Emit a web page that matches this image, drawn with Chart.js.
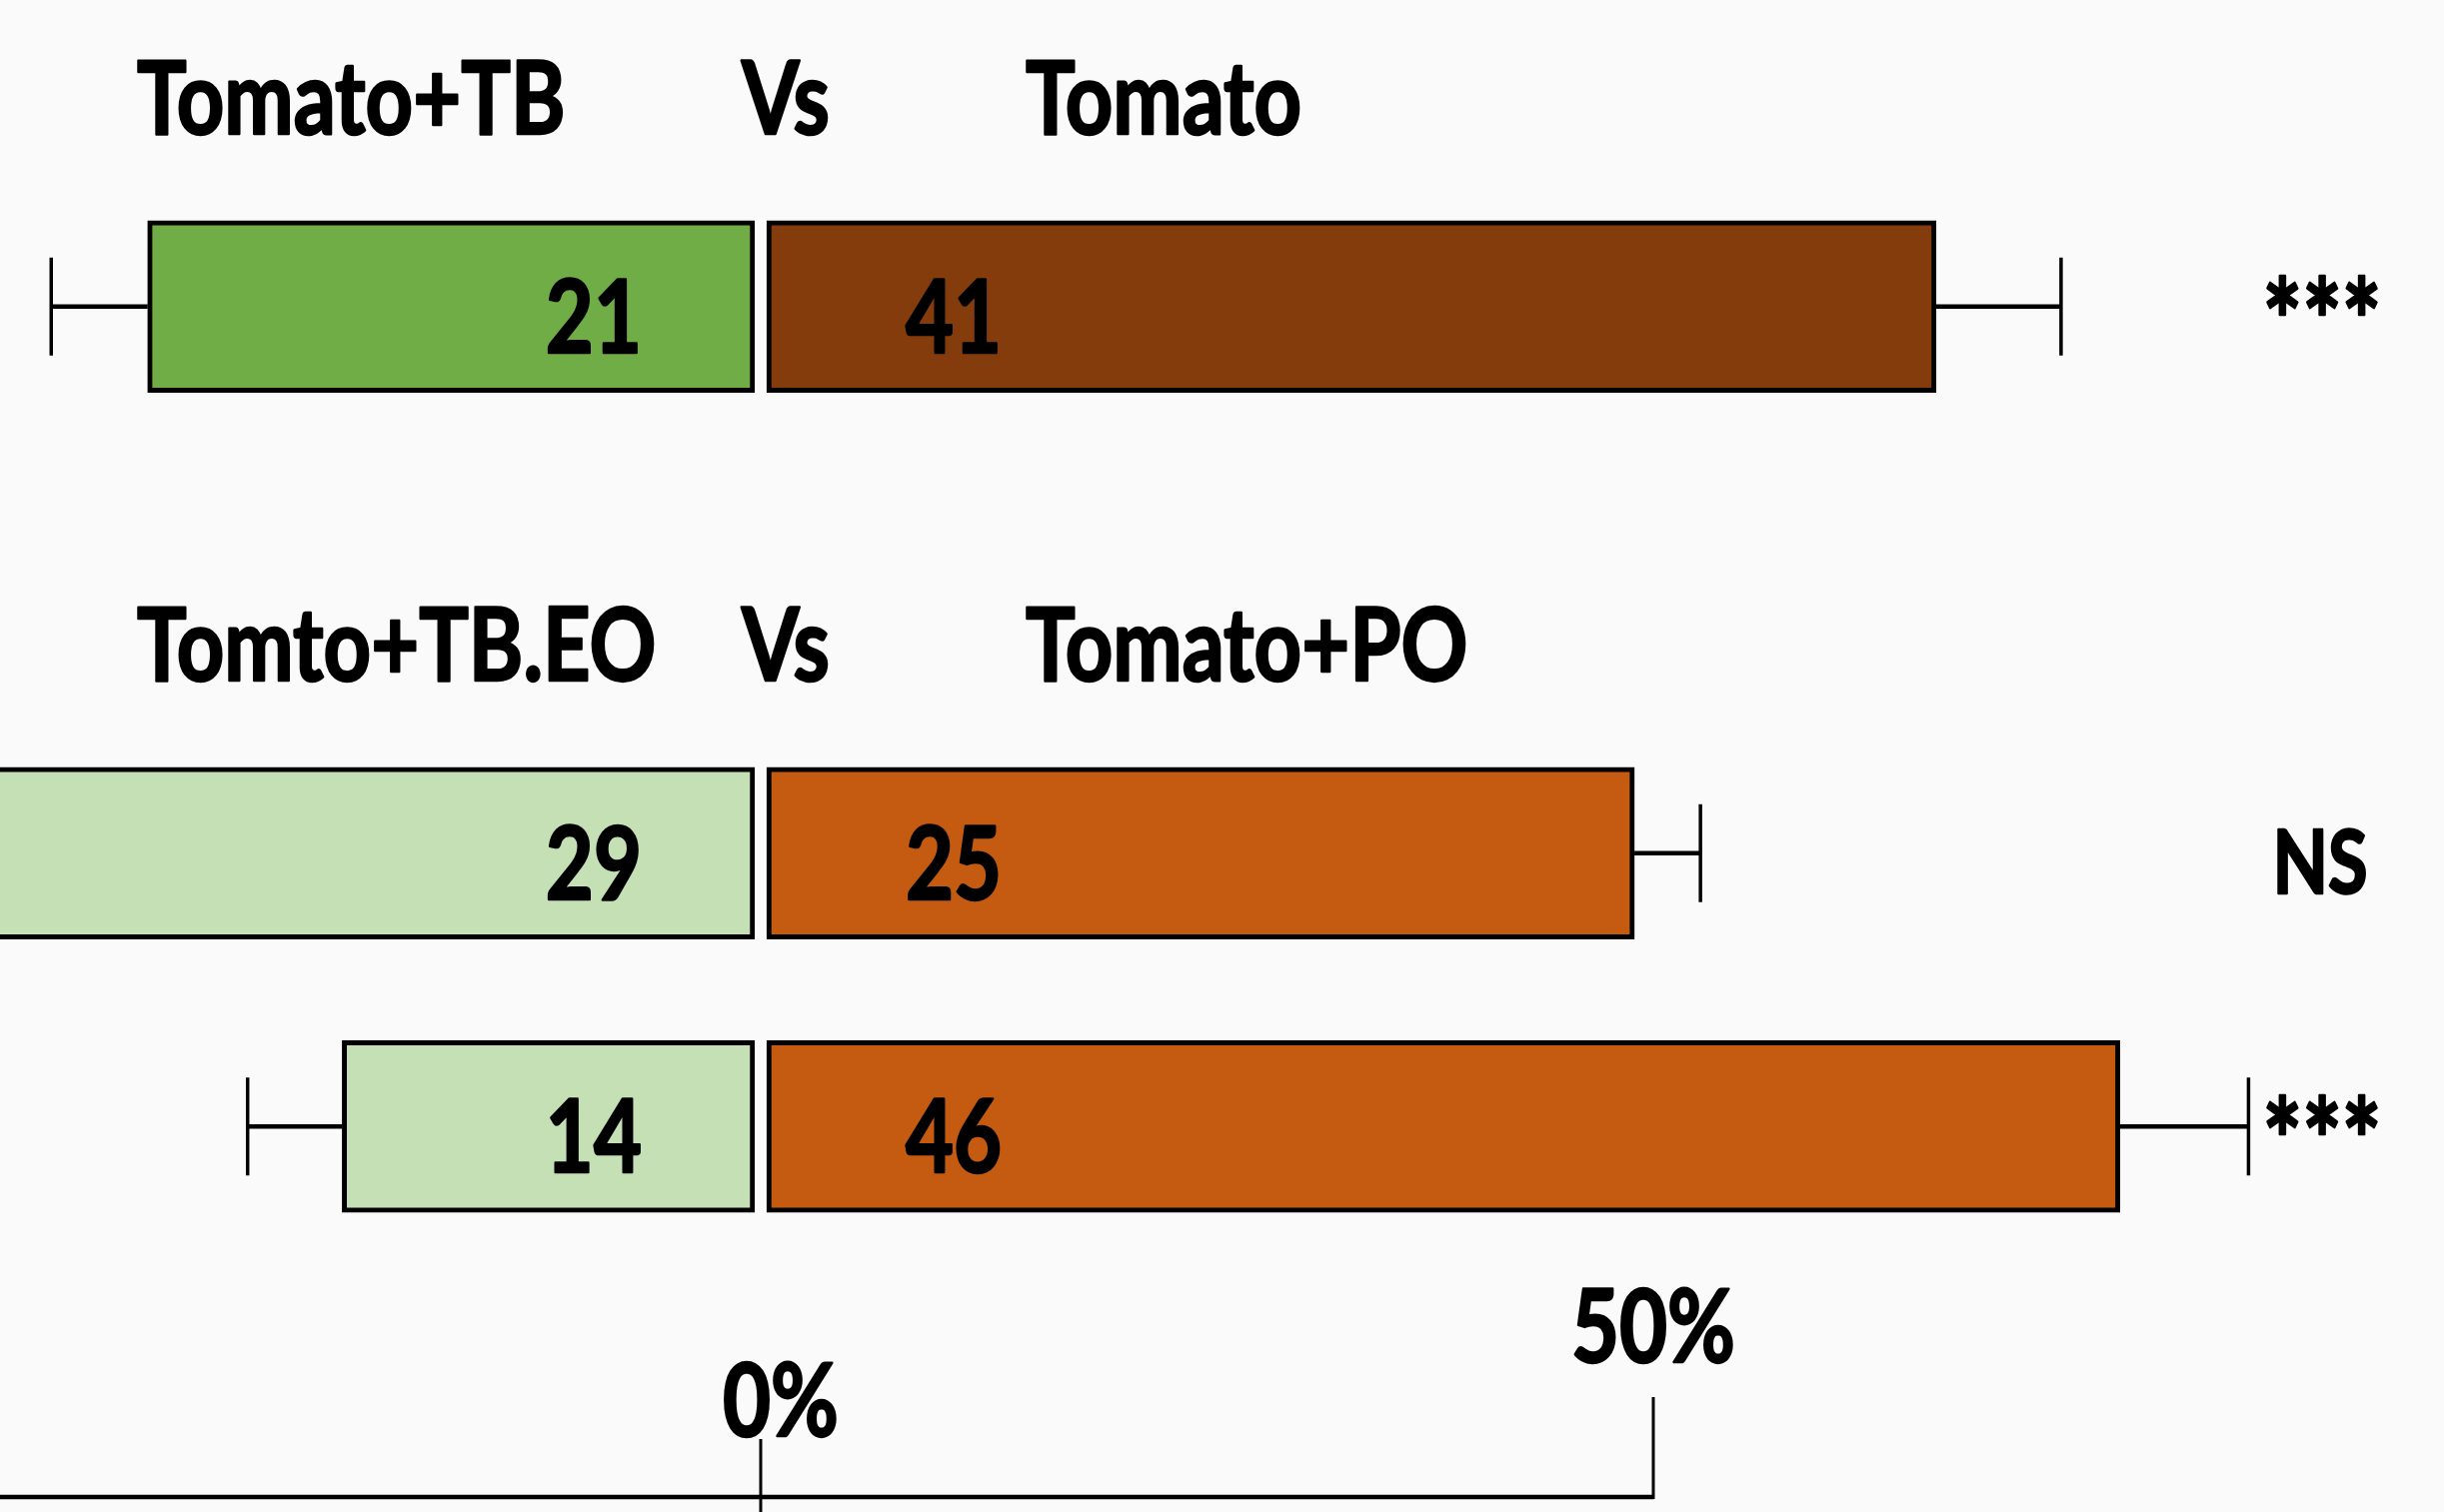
<!DOCTYPE html>
<html>
<head>
<meta charset="utf-8">
<title>Choice test</title>
<script src="https://cdn.jsdelivr.net/npm/chart.js@4.4.1/dist/chart.umd.min.js"></script>
<style>
  html, body { margin: 0; padding: 0; background: #fafafa; }
  #wrap { width: 2445px; height: 1513px; }
</style>
</head>
<body>
<div id="wrap"><canvas id="choiceChart" width="2445" height="1513"></canvas></div>
<script>
// rows of the chart; slot 1 stays empty, it holds the title of the 2nd pair
const rows = ['Tomato+TB / Tomato', '', 'Tomto+TB.EO / Tomato+PO (a)', 'Tomto+TB.EO / Tomato+PO (b)'];
const headers = [['Tomato+TB', 'Vs', 'Tomato'], null, ['Tomto+TB.EO', 'Vs', 'Tomato+PO'], null];

// % of insects choosing each side (bar length)
const leftPct = [34.0, null, 51.4, 23.1];
const rightPct = [65.5, null, 48.6, 75.8];
// numbers printed in the bars
const leftCounts = [21, null, 29, 14];
const rightCounts = [41, null, 25, 46];
// error bars (in % units)
const leftErr = [5.4, null, null, 5.3];
const rightErr = [7.0, null, 3.7, 7.2];
const signif = ['***', null, 'NS', '***'];

const leftColors = ['#70AD47', '#70AD47', '#C5E0B4', '#C5E0B4'];
const rightColors = ['#843C0C', '#843C0C', '#C55A11', '#C55A11'];

const tickValues = [0, 50];
const tickLabels = ['0%', '50%'];

const GAP = 0.34;        // small white gap each side of 0%
const FONT = '"Lato", "Liberation Sans", sans-serif';
const FONT_SIZE = 101;
const SQUEEZE = 0.82;    // text in the original is horizontally squeezed

function squeezedText(ctx, text, x, y, align, size) {
  ctx.save();
  ctx.font = 'bold ' + (size || FONT_SIZE) + 'px ' + FONT;
  ctx.textBaseline = 'alphabetic';
  ctx.textAlign = 'left';
  const w = ctx.measureText(text).width * SQUEEZE;
  let x0 = x;
  if (align === 'right') x0 = x - w;
  if (align === 'center') x0 = x - w / 2;
  ctx.translate(x0, y);
  ctx.scale(SQUEEZE, 1);
  ctx.fillStyle = '#000';
  ctx.strokeStyle = '#000';
  ctx.lineWidth = 2.5;
  ctx.lineJoin = 'round';
  ctx.fillText(text, 0, 0);
  ctx.strokeText(text, 0, 0);
  ctx.restore();
}

function line(ctx, x1, y1, x2, y2, w) {
  ctx.beginPath();
  ctx.lineWidth = w;
  ctx.strokeStyle = '#000';
  ctx.moveTo(x1, y1);
  ctx.lineTo(x2, y2);
  ctx.stroke();
}

const decorations = {
  id: 'decorations',
  afterDatasetsDraw(chart) {
    const ctx = chart.ctx;
    const xs = chart.scales.x, ys = chart.scales.y;
    const zero = xs.getPixelForValue(0);

    // error bars
    [[0, leftErr, -1], [1, rightErr, 1]].forEach(([di, errs, dir]) => {
      chart.getDatasetMeta(di).data.forEach((bar, i) => {
        if (errs[i] == null) return;
        const raw = chart.data.datasets[di].data[i];
        const capX = xs.getPixelForValue(raw[1] + dir * errs[i]);
        line(ctx, bar.x, bar.y, capX, bar.y, 4.5);
        line(ctx, capX, bar.y - 49, capX, bar.y + 49, 3.5);
      });
    });

    // counts inside the bars
    chart.getDatasetMeta(0).data.forEach((bar, i) => {
      if (leftCounts[i] == null) return;
      squeezedText(ctx, String(leftCounts[i]), bar.base - 113, bar.y + 46, 'right');
    });
    chart.getDatasetMeta(1).data.forEach((bar, i) => {
      if (rightCounts[i] == null) return;
      squeezedText(ctx, String(rightCounts[i]), bar.base + 139, bar.y + 46, 'left');
      if (signif[i] === 'NS') squeezedText(ctx, signif[i], chart.chartArea.right - 124, bar.y + 40, 'center', 88);
      else if (signif[i]) squeezedText(ctx, signif[i], chart.chartArea.right - 122, bar.y + 56, 'center', 114);
    });

    // pair titles
    headers.forEach((h, i) => {
      if (!h) return;
      const y = ys.getPixelForValue(i) - 173;
      squeezedText(ctx, h[0], zero - 624, y, 'left');
      squeezedText(ctx, h[1], zero - 19, y, 'left');
      squeezedText(ctx, h[2], zero + 265, y, 'left');
    });

    // bottom axis
    const axisY = chart.height - 15;
    const last = xs.getPixelForValue(tickValues[tickValues.length - 1]);
    line(ctx, chart.chartArea.left, axisY, last, axisY, 4.5);
    tickValues.forEach((v, i) => {
      const px = xs.getPixelForValue(v);
      if (i === 0) {
        line(ctx, px, axisY - 58, px, chart.height, 3);
        squeezedText(ctx, tickLabels[i], px + 20, axisY - 61, 'center');
      } else {
        line(ctx, px, axisY - 100, px, axisY + 2, 3);
        squeezedText(ctx, tickLabels[i], px, axisY - 135, 'center');
      }
    });
  }
};

const ctx = document.getElementById('choiceChart').getContext('2d');
const choiceChart = new Chart(ctx, {
  type: 'bar',
  data: {
    labels: rows,
    datasets: [{
      label: 'Treated side',
      data: leftPct.map(v => v == null ? null : [-GAP, -GAP - v]),
      backgroundColor: leftColors,
      borderColor: '#000',
      borderWidth: 5,
      borderSkipped: false,
      barThickness: 172,
      grouped: false
    }, {
      label: 'Control side',
      data: rightPct.map(v => v == null ? null : [GAP, GAP + v]),
      backgroundColor: rightColors,
      borderColor: '#000',
      borderWidth: 5,
      borderSkipped: false,
      barThickness: 172,
      grouped: false
    }]
  },
  options: {
    indexAxis: 'y',
    responsive: false,
    animation: false,
    layout: { padding: { top: 170, bottom: 249, left: 0, right: 0 } },
    scales: {
      x: { type: 'linear', min: -42.61, max: 94.29, display: false },
      y: { display: false }
    },
    plugins: { legend: { display: false }, tooltip: { enabled: false } }
  },
  plugins: [decorations]
});
</script>
</body>
</html>
